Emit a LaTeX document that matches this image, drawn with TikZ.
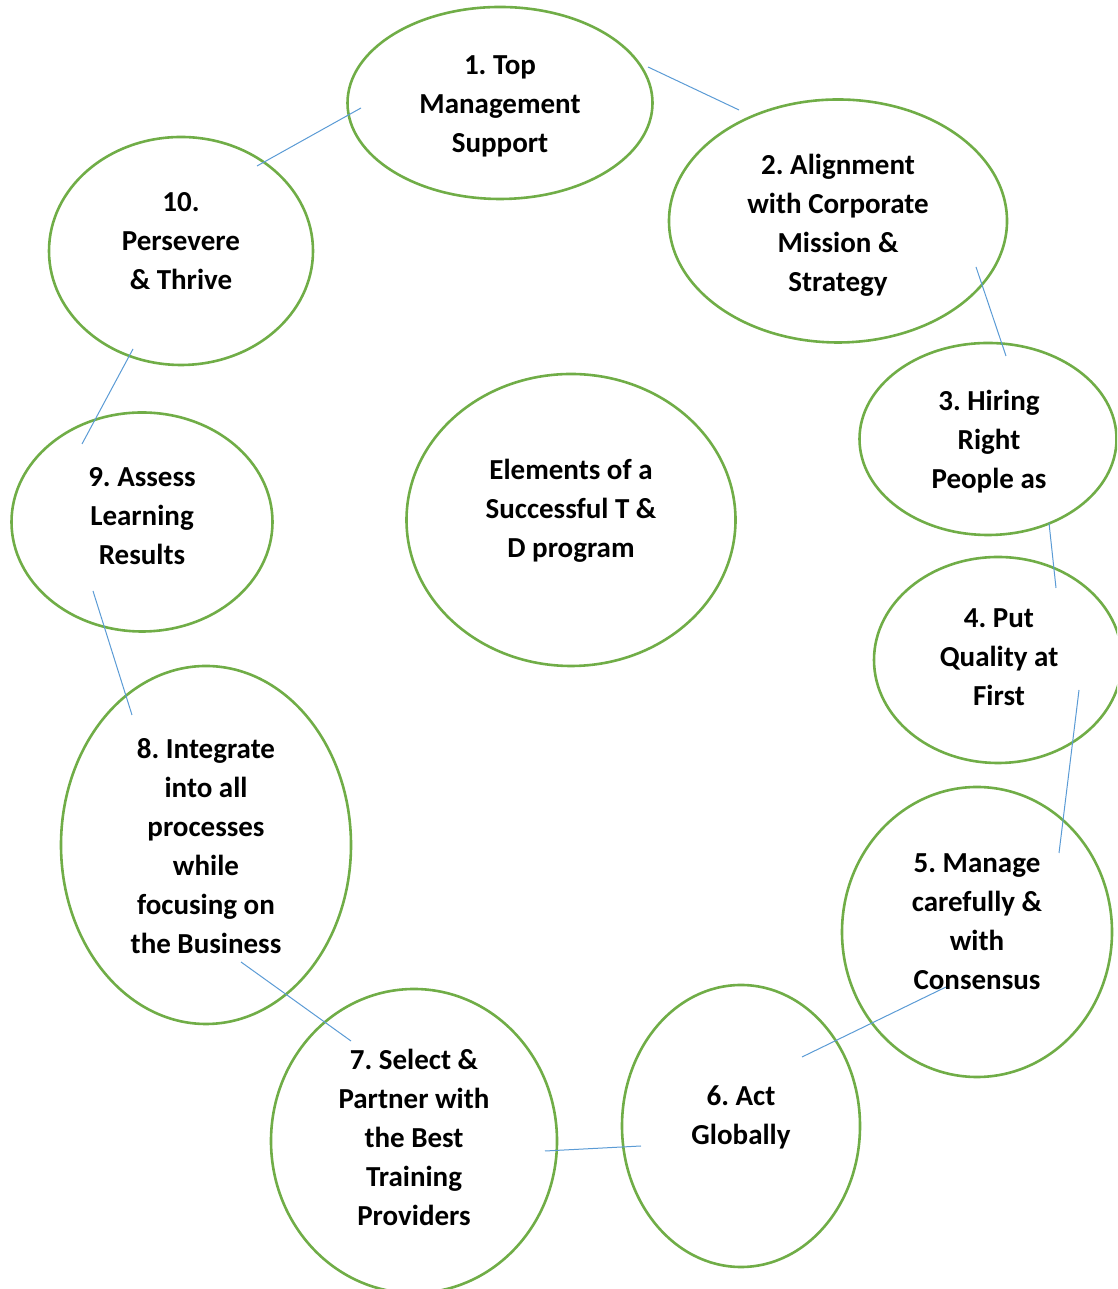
\documentclass[tikz,border=0pt]{standalone}
\usepackage{fontspec}
\setmainfont{Carlito}
\frenchspacing
\usetikzlibrary{shapes.geometric}
\definecolor{ringgreen}{HTML}{70AD47}
\definecolor{linkblue}{HTML}{5B9BD5}
\tikzset{
  ring/.style={draw=ringgreen, line width=2.6pt, ellipse, inner sep=0pt},
  label text/.style={align=center, font=\fontsize{29}{39}\selectfont\bfseries, text=black, inner sep=0pt},
  link/.style={draw=linkblue, line width=1pt}
}
\begin{document}
\begin{tikzpicture}[x=1pt,y=1pt]
\useasboundingbox (0,0) rectangle (1117,1289);
\clip (0,0) rectangle (1117,1289);
% ellipses (y = 1289 - ypx)
\node[ring, minimum width=305, minimum height=192] (e1) at (500,1186) {};
\node[ring, minimum width=338, minimum height=243] (e2) at (838,1068) {};
\node[ring, minimum width=257, minimum height=192] (e3) at (988,850) {};
\node[ring, minimum width=248, minimum height=206] (e4) at (998,629) {};
\node[ring, minimum width=270, minimum height=290] (e5) at (977,357) {};
\node[ring, minimum width=238, minimum height=282] (e6) at (741,163) {};
\node[ring, minimum width=286, minimum height=304] (e7) at (414,148) {};
\node[ring, minimum width=290, minimum height=358] (e8) at (206,444) {};
\node[ring, minimum width=261, minimum height=219] (e9) at (142,767) {};
\node[ring, minimum width=264, minimum height=228] (e10) at (181,1038) {};
\node[ring, minimum width=329, minimum height=292] (ec) at (571,769) {};
% texts
\node[label text] (t1) at (500,1183) {1. Top\\Management\\Support};
\node[label text] (t2) at (838,1064) {2. Alignment\\with Corporate\\Mission \&\\Strategy};
\node[label text] (t3) at (989,847) {3. Hiring\\Right\\People as};
\node[label text] (t4) at (999,632) {4. Put\\Quality at\\First};
\node[label text] (t5) at (977,367) {5. Manage\\carefully \&\\with\\Consensus};
\node[label text] (t6) at (741,172) {6. Act\\Globally};
\node[label text] (t7) at (414,152) {7. Select \&\\Partner with\\the Best\\Training\\Providers};
\node[label text] (t8) at (206,443) {8. Integrate\\into all\\processes\\while\\focusing on\\the Business};
\node[label text] (t9) at (142,773) {9. Assess\\Learning\\Results};
\node[label text] (t10) at (181,1048) {10.\\Persevere\\\& Thrive};
\node[label text] (tc) at (571,778) {Elements of a\\Successful T \&\\D program};
% connector end points
\coordinate (a1) at (648,1222); \coordinate (b1) at (739,1179);
\coordinate (a2) at (976,1022); \coordinate (b2) at (1006,933);
\coordinate (a3) at (1049,766);  \coordinate (b3) at (1056,701);
\coordinate (a4) at (1079,599);  \coordinate (b4) at (1059,436);
\coordinate (a5) at (946,302);   \coordinate (b5) at (802,232);
\coordinate (a6) at (641,143);   \coordinate (b6) at (545,138);
\coordinate (a7) at (351,248);   \coordinate (b7) at (241,327);
\coordinate (a8) at (132,574);   \coordinate (b8) at (93,698);
\coordinate (a9) at (133,940);   \coordinate (b9) at (82,845);
\coordinate (a10) at (361,1181); \coordinate (b10) at (257,1123);
\draw[link] (a1) -- (b1);
\draw[link] (a2) -- (b2);
\draw[link] (a3) -- (b3);
\draw[link] (a4) -- (b4);
\draw[link] (a5) -- (b5);
\draw[link] (a6) -- (b6);
\draw[link] (a7) -- (b7);
\draw[link] (a8) -- (b8);
\draw[link] (a9) -- (b9);
\draw[link] (a10) -- (b10);
\end{tikzpicture}
\end{document}
